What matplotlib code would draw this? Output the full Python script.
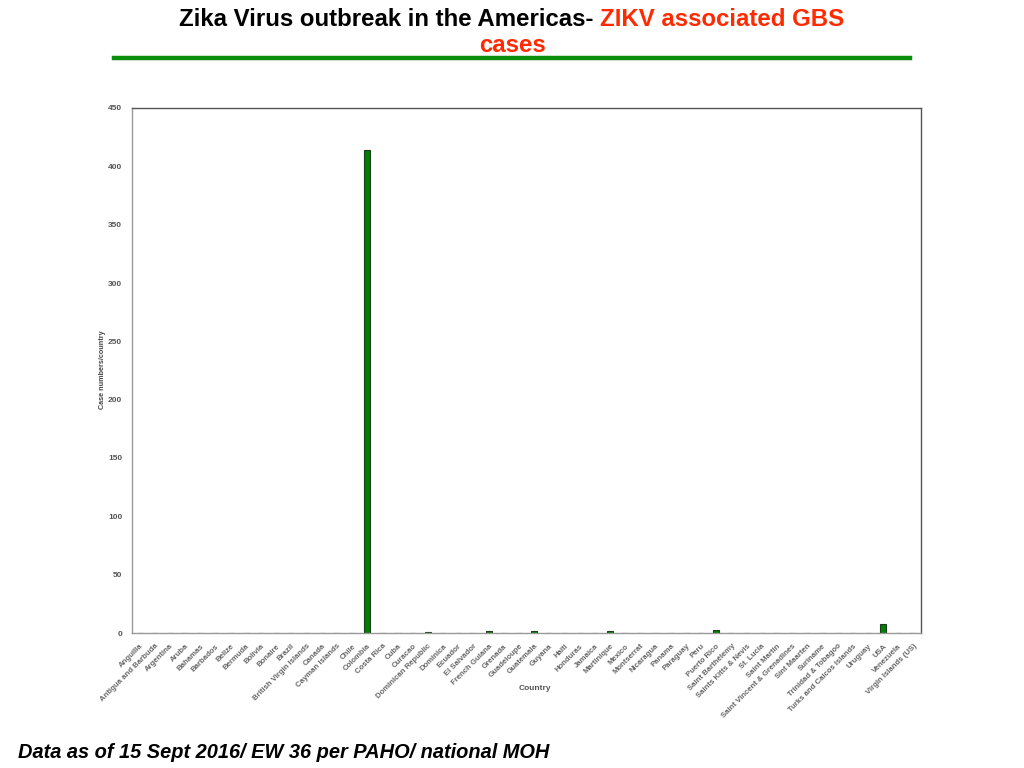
import numpy as np
import matplotlib.pyplot as plt
from matplotlib.lines import Line2D

countries = ["Anguilla", "Antigua and Barbuda", "Argentina", "Aruba", "Bahamas",
             "Barbados", "Belize", "Bermuda", "Bolivia", "Bonaire", "Brazil",
             "British Virgin Islands", "Canada", "Cayman Islands", "Chile",
             "Colombia", "Costa Rica", "Cuba", "Curacao", "Dominican Republic",
             "Dominica", "Ecuador", "El Salvador", "French Guiana", "Grenada",
             "Guadeloupe", "Guatemala", "Guyana", "Haiti", "Honduras", "Jamaica",
             "Martinique", "Mexico", "Montserrat", "Nicaragua", "Panama",
             "Paraguay", "Peru", "Puerto Rico", "Saint Barthélemy",
             "Saints Kitts & Nevis", "St. Lucia", "Saint Martin",
             "Saint Vincent & Grenadines", "Sint Maarten", "Suriname",
             "Trinidad & Tobagoo", "Turks and Caicos Islands", "Uruguay", "USA",
             "Venezuela", "Virgin Islands (US)"]
gbs_cases = [0, 0, 0, 0, 0, 0, 0, 0, 0, 0, 0, 0, 0, 0, 0,
             414, 0, 0, 0, 1, 0, 0, 0, 2, 0, 0, 2, 0, 0, 0, 0,
             2, 0, 0, 0, 0, 0, 0, 3, 0, 0, 0, 0, 0, 0, 0, 0, 0, 0, 8, 0, 0]
yticks = [0, 50, 100, 150, 200, 250, 300, 350, 400, 450]

title_black = "Zika Virus outbreak in the Americas- "
title_red1 = "ZIKV associated GBS"
title_red2 = "cases"
footer = "Data as of 15 Sept 2016/ EW 36 per PAHO/ national MOH"

plt.rcParams['font.family'] = ['Liberation Sans', 'DejaVu Sans']

fig = plt.figure(figsize=(10.24, 7.68), dpi=100)
ax = fig.add_axes([132/1024, 1-633/768, 789/1024, 525/768])

x = np.arange(len(countries))
ax.bar(x, gbs_cases, width=0.4, color="#008000", edgecolor="#1f3a1f", lw=0.8)

ax.set_xlim(-0.5, len(countries) - 0.5)
ax.set_ylim(0, 450)
ax.set_yticks(yticks)
ax.set_yticklabels([str(v) for v in yticks], fontsize=6, color="#555555",
                   fontweight="bold")
ax.set_xticks(x)
ax.set_xticklabels(countries, rotation=45, ha="right", rotation_mode="anchor",
                   fontsize=5.6, color="#666666", fontweight="bold")
ax.tick_params(length=0, pad=7)
for s in ax.spines.values():
    s.set_color("#999999")
    s.set_linewidth(1.0)
ax.spines["top"].set_color("#555555")
ax.spines["right"].set_color("#555555")

fig.text(535/1024, 1-688/768, "Country", fontsize=6, fontweight="bold",
         color="#555555", ha="center", va="center")
fig.text(103/1024, 1-370/768, "Case numbers/country", fontsize=5.2, fontweight="bold",
         color="#444444", rotation=90, ha="center", va="center")

# title in two colours, sized so line one spans the same width as the slide
fig.canvas.draw()
r = fig.canvas.get_renderer()
tfont = dict(fontsize=18, fontweight="bold")
t1 = fig.text(0, 1-19/768, title_black, color="black", va="center", **tfont)
t2 = fig.text(0, 1-19/768, title_red1, color="#ff2a00", va="center", **tfont)
w = t1.get_window_extent(r).width + t2.get_window_extent(r).width
size = 18 * 665 / w
t1.set_fontsize(size)
t2.set_fontsize(size)
w1 = t1.get_window_extent(r).width
w2 = t2.get_window_extent(r).width
x0 = 512 - (w1 + w2) / 2
t1.set_x(x0 / 1024)
t2.set_x((x0 + w1) / 1024)
fig.text(512/1024, 1-46/768, title_red2, color="#ff2a00", ha="center", va="center",
         fontsize=size, fontweight="bold")

fig.add_artist(Line2D([114/1024, 910/1024], [1-58/768, 1-58/768], color="#0a8f0a", lw=3.2))

fig.text(18/1024, 1-752/768, footer, fontsize=14.4, fontweight="bold", style="italic",
         va="center")

fig.savefig("out.png", dpi=100)
